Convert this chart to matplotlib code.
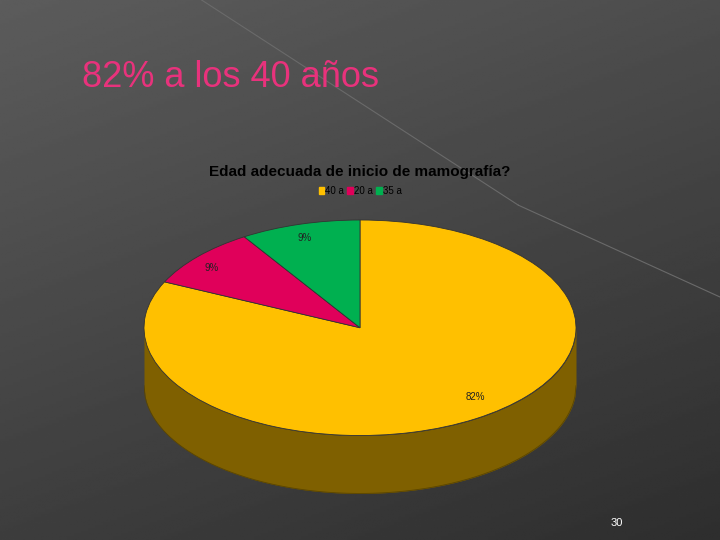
import numpy as np
import matplotlib
matplotlib.use("Agg")
import matplotlib.pyplot as plt
from matplotlib.patches import Rectangle

plt.rcParams['font.family'] = ['Liberation Sans', 'DejaVu Sans']

categories = ["40 a", "20 a", "35 a"]
values = [82, 9, 9]
labels = ["82%", "9%", "9%"]
colors = ["#ffc000", "#e0005a", "#00b050"]
side_color = "#7f6000"

fig = plt.figure(figsize=(7.2, 5.4), dpi=100)
bg = fig.add_axes([0, 0, 1, 1])
yy, xx = np.mgrid[0:1:200j, 0:1:200j]
grad = 0.36 - 0.12 * yy - 0.06 * xx
bg.imshow(grad, cmap="gray", vmin=0, vmax=1, extent=[0, 1, 0, 1], aspect="auto", origin="upper")
bg.plot([0.28, 0.72], [1.0, 0.62], color="#6a6a6a", lw=0.8)
bg.plot([0.72, 1.0], [0.62, 0.45], color="#6a6a6a", lw=0.8)
bg.set_xlim(0, 1); bg.set_ylim(0, 1); bg.axis("off")

fig.text(82/720, 1-78/540, "82% a los 40 años", color="#e8327c", fontsize=26, va="center", ha="left")
fig.text(360/720, 1-172/540, "Edad adecuada de inicio de mamografía?", fontsize=11, fontweight="bold", ha="center", va="center")
fig.text(617/720, 1-523/540, "30", color="white", fontsize=8, ha="center", va="center")

ax = fig.add_axes([144/720, 1-495.6/540, 432/720, 275.6/540])
depth = 57/106
x = np.linspace(-1, 1, 400)
ax.fill_between(x, -np.sqrt(1-x**2), -np.sqrt(1-x**2)-depth, color=side_color, zorder=1, lw=0)
ax.plot(x, -np.sqrt(1-x**2)-depth, color="#5a4500", lw=0.6, zorder=1)
ax.pie(values, colors=colors, startangle=90, counterclock=False, radius=1, center=(0, 0),
       wedgeprops=dict(edgecolor="#333333", linewidth=0.6), frame=True)
ax.set_aspect("auto")
ax.set_xlim(-1, 1); ax.set_ylim(-1 - depth - 0.02, 1)
ax.axis("off")

for lab, (px, py) in zip(labels, [(475, 397), (212, 268), (305, 238)]):
    fig.text(px/720, 1-py/540, lab, fontsize=7, ha="center", va="center", color="#222222")

handles = [Rectangle((0, 0), 1, 1, color=c) for c in colors]
fig.legend(handles, categories, loc="center", bbox_to_anchor=(360/720, 1-191/540), ncol=3,
           frameon=False, fontsize=7, handlelength=0.6, handleheight=0.6, handletextpad=0.1,
           columnspacing=0.3)

fig.savefig("out.png", dpi=100)
